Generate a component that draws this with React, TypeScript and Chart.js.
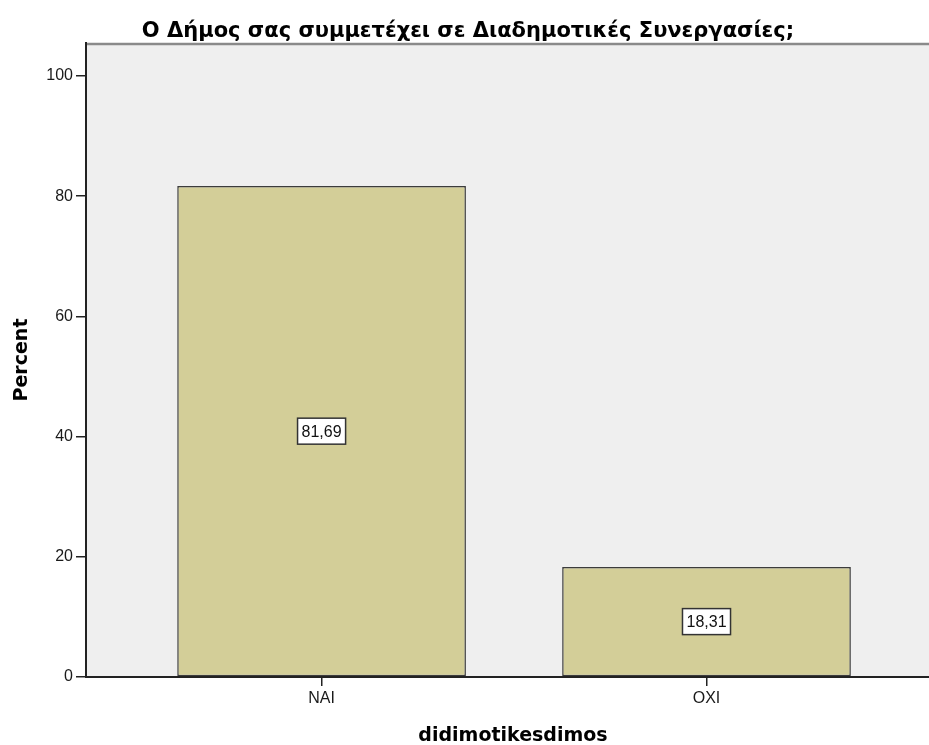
import React, { useEffect, useRef } from "react";
import { Chart, registerables } from "chart.js";

Chart.register(...registerables);

const chartTitle = "Ο Δήμος σας συμμετέχει σε Διαδημοτικές Συνεργασίες;";
const xAxisTitle = "didimotikesdimos";
const yAxisTitle = "Percent";
const categories = ["NAI", "OXI"];
const percentValues = [81.69, 18.31];
const valueLabels = ["81,69", "18,31"];
const yTicks = [0, 20, 40, 60, 80, 100];

const PLOT_BG = "#efefef";
const BAR_FILL = "#d3ce98";
const BAR_EDGE = "#3c3c3c";
const AXIS = "#222222";

export default function App() {
  const ref = useRef<HTMLCanvasElement | null>(null);

  useEffect(() => {
    document.body.style.margin = "0";
    document.body.style.overflow = "hidden";
    const canvas = ref.current;
    if (!canvas) return;

    const decor = {
      id: "decor",
      beforeDraw(chart: any) {
        const { ctx, chartArea } = chart;
        ctx.save();
        ctx.fillStyle = PLOT_BG;
        ctx.fillRect(chartArea.left, chartArea.top, chartArea.right - chartArea.left, chartArea.bottom - chartArea.top);
        ctx.strokeStyle = "#8a8a8a";
        ctx.lineWidth = 2.5;
        ctx.beginPath();
        ctx.moveTo(chartArea.left, chartArea.top + 1);
        ctx.lineTo(chartArea.right, chartArea.top + 1);
        ctx.stroke();
        ctx.restore();
      },
      afterDraw(chart: any) {
        const { ctx } = chart;
        ctx.save();
        ctx.fillStyle = "#000";
        ctx.textAlign = "center";
        ctx.textBaseline = "alphabetic";
        ctx.font = "bold 21px 'DejaVu Sans', sans-serif";
        ctx.fillText(chartTitle, 468, 37);
        ctx.font = "bold 19px 'DejaVu Sans', sans-serif";
        ctx.fillText(xAxisTitle, 513, 741);
        ctx.translate(27, 360);
        ctx.rotate(-Math.PI / 2);
        ctx.fillText(yAxisTitle, 0, 0);
        ctx.restore();
      },
      afterDatasetsDraw(chart: any) {
        const { ctx } = chart;
        const meta = chart.getDatasetMeta(0);
        ctx.save();
        ctx.font = "16px 'Liberation Sans', Arial, sans-serif";
        ctx.textAlign = "center";
        ctx.textBaseline = "middle";
        meta.data.forEach((bar: any, i: number) => {
          const cx = bar.x;
          const cy = (bar.y + bar.base) / 2;
          const label = valueLabels[i];
          const w = ctx.measureText(label).width + 8;
          const h = 26;
          ctx.fillStyle = "#ffffff";
          ctx.fillRect(cx - w / 2, cy - h / 2, w, h);
          ctx.strokeStyle = "#333";
          ctx.lineWidth = 1.5;
          ctx.strokeRect(cx - w / 2, cy - h / 2, w, h);
          ctx.fillStyle = "#111";
          ctx.fillText(label, cx, cy + 1);
        });
        ctx.restore();
      },
    };

    const chart = new Chart(canvas, {
      type: "bar",
      data: {
        datasets: [
          {
            data: categories.map((c, i) => ({ x: i, y: percentValues[i] })),
            backgroundColor: BAR_FILL,
            borderColor: BAR_EDGE,
            borderWidth: 1.5,
            borderSkipped: false,
            barPercentage: 0.75,
            categoryPercentage: 1,
          },
        ],
      },
      options: {
        animation: false,
        responsive: false,
        devicePixelRatio: 1,
        layout: { padding: { top: 43, right: 0, left: 0, bottom: 0 } },
        plugins: {
          legend: { display: false },
          tooltip: { enabled: false },
          title: { display: false },
        },
        scales: {
          x: {
            type: "linear",
            offset: false,
            min: -0.612,
            max: 1.578,
            afterBuildTicks: (scale: any) => {
              scale.ticks = categories.map((_, i) => ({ value: i }));
            },
            afterFit: (scale: any) => {
              scale.height = 68;
            },
            ticks: {
              callback: (v: any) => categories[Math.round(Number(v))] ?? "",
              font: { family: "'Liberation Sans', Arial, sans-serif", size: 16 },
              color: "#1a1a1a",
              padding: 3,
              maxRotation: 0,
              autoSkip: false,
            },
            grid: { display: true, offset: false, drawOnChartArea: false, drawTicks: true, tickLength: 9, color: AXIS, lineWidth: 1.5 },
            border: { display: true, color: AXIS, width: 2 },
          },
          y: {
            min: 0,
            max: 105.5,
            afterBuildTicks: (scale: any) => {
              scale.ticks = yTicks.map((v) => ({ value: v }));
            },
            afterFit: (scale: any) => {
              scale.width = 86;
            },
            ticks: {
              font: { family: "'Liberation Sans', Arial, sans-serif", size: 16 },
              color: "#1a1a1a",
              padding: 3,
            },
            grid: { display: true, drawOnChartArea: false, drawTicks: true, tickLength: 10, color: AXIS, lineWidth: 1.5 },
            border: { display: true, color: AXIS, width: 2 },
          },
        },
      },
      plugins: [decor],
    } as any);

    return () => chart.destroy();
  }, []);

  return <canvas ref={ref} width={929} height={745} style={{ display: "block" }} />;
}
